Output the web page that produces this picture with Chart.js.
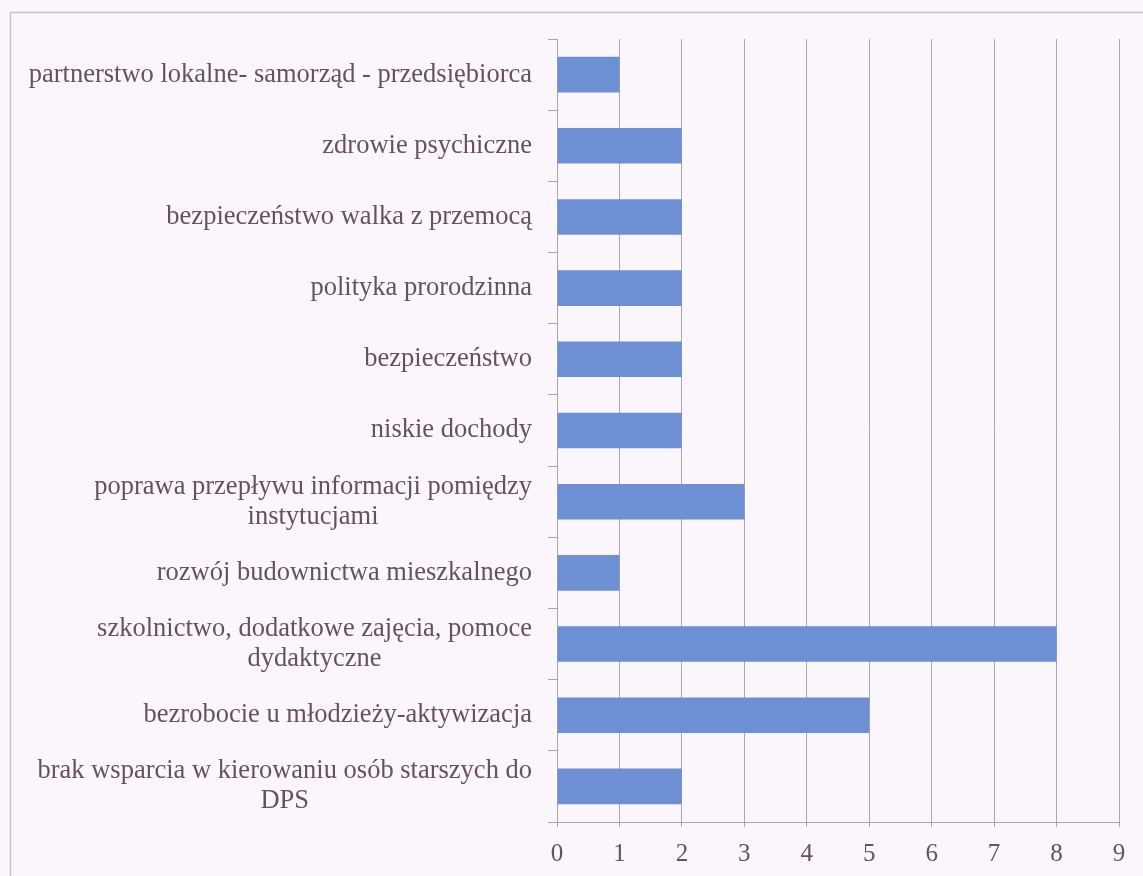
<!DOCTYPE html>
<html>
<head>
<meta charset="utf-8">
<script src="https://cdn.jsdelivr.net/npm/chart.js@4"></script>
<style>
    html, body { margin: 0; padding: 0; background: #fbf6fb; }
    #wrap { width: 1143px; height: 876px; }
</style>
</head>
<body>
<div id="wrap"><canvas id="wykres"></canvas></div>
<script>
// kategorie od góry do dołu
var categories = [
    ['partnerstwo lokalne- samorząd - przedsiębiorca'],
    ['zdrowie psychiczne'],
    ['bezpieczeństwo walka z przemocą'],
    ['polityka prorodzinna'],
    ['bezpieczeństwo'],
    ['niskie dochody'],
    ['poprawa przepływu informacji pomiędzy', 'instytucjami'],
    ['rozwój budownictwa mieszkalnego'],
    ['szkolnictwo, dodatkowe zajęcia, pomoce', 'dydaktyczne'],
    ['bezrobocie u młodzieży-aktywizacja'],
    ['brak wsparcia w kierowaniu osób starszych do', 'DPS']
];
var values = [1, 2, 2, 2, 2, 2, 3, 1, 8, 5, 2];
var xTicks = [0, 1, 2, 3, 4, 5, 6, 7, 8, 9];

var textColor = '#635360';
var gridColor = '#aaa4ac';
var fontFamily = "'Liberation Serif', 'Times New Roman', serif";

// tło i ramka
var backgroundPlugin = {
    id: 'tlo',
    beforeDraw: function (chart) {
        var c = chart.ctx;
        c.save();
        c.fillStyle = '#fbf6fb';
        c.fillRect(0, 0, chart.width, chart.height);
        c.strokeStyle = '#c9c2ca';
        c.lineWidth = 1.5;
        c.beginPath();
        c.moveTo(10.5, chart.height);
        c.lineTo(10.5, 12.5);
        c.lineTo(chart.width, 12.5);
        c.stroke();
        c.restore();
    }
};

// etykiety kategorii - druga linia wyśrodkowana pod pierwszą
var labelPlugin = {
    id: 'etykiety',
    afterDraw: function (chart) {
        var c = chart.ctx;
        var scale = chart.scales.y;
        var right = scale.right - 25;
        var lineH = 30;
        c.save();
        c.font = '26.5px ' + fontFamily;
        c.fillStyle = textColor;
        c.textBaseline = 'middle';
        c.textAlign = 'center';
        categories.forEach(function (lines, i) {
            var yc = scale.getPixelForTick(i);
            var widths = lines.map(function (l) { return c.measureText(l).width; });
            var maxW = Math.max.apply(null, widths);
            var cx = right - maxW / 2;
            var y0 = yc - (lines.length - 1) * lineH / 2;
            lines.forEach(function (l, j) {
                c.fillText(l, cx, y0 + j * lineH);
            });
        });
        c.restore();
    }
};

const ctx = document.getElementById('wykres').getContext('2d');
new Chart(ctx, {
    type: 'bar',
    data: {
        labels: categories.map(function (l) { return l.join(' '); }),
        datasets: [{
            data: values,
            backgroundColor: '#6d90d5',
            borderWidth: 0,
            barPercentage: 0.5,
            categoryPercentage: 1.0
        }]
    },
    options: {
        indexAxis: 'y',
        responsive: true,
        maintainAspectRatio: false,
        animation: false,
        layout: {
            padding: { top: 39, right: 24, bottom: 0, left: 0 }
        },
        plugins: {
            legend: { display: false },
            tooltip: { enabled: false }
        },
        scales: {
            x: {
                min: 0,
                max: 9,
                afterBuildTicks: function (scale) {
                    scale.ticks = xTicks.map(function (v) { return { value: v }; });
                },
                afterFit: function (scale) { scale.height = 54; },
                grid: {
                    color: gridColor,
                    lineWidth: 1,
                    drawTicks: true,
                    tickLength: 5
                },
                border: { display: true, color: gridColor, width: 1 },
                ticks: {
                    color: textColor,
                    padding: 12,
                    font: { family: fontFamily, size: 25 }
                }
            },
            y: {
                afterFit: function (scale) { scale.width = 557; },
                grid: {
                    drawOnChartArea: false,
                    drawTicks: true,
                    tickLength: 9,
                    color: gridColor
                },
                border: { display: true, color: gridColor, width: 1 },
                ticks: { display: false }
            }
        }
    },
    plugins: [backgroundPlugin, labelPlugin]
});
</script>
</body>
</html>
